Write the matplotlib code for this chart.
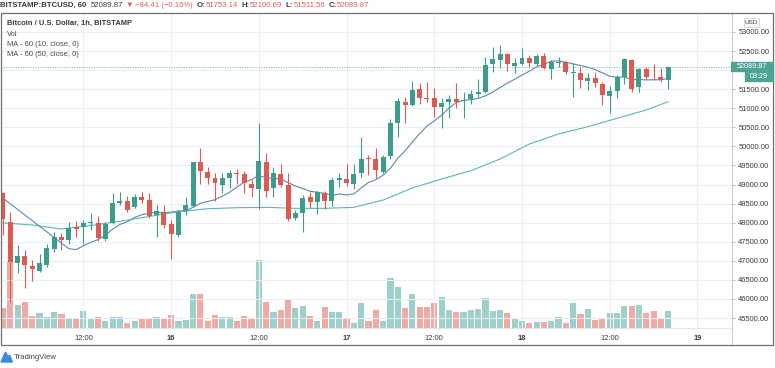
import numpy as np
import pandas as pd
import matplotlib
matplotlib.use("Agg")
import matplotlib.pyplot as plt
from matplotlib.patches import Rectangle, Polygon
from matplotlib.lines import Line2D

# ---------------- data (hourly BITSTAMP:BTCUSD) ----------------
start_time = "2021-02-15 01:00"
opens = [48779, 48026, 46951, 47127, 46865, 46742, 46883, 47318, 47617, 47546,
         47895, 47895, 48000, 48000, 47581, 47984, 48508, 48577, 48403, 48682,
         48595, 48202, 48262, 47958, 47677, 48315, 48446, 49583, 49337, 49164,
         48996, 49180, 49310, 49269, 49015, 48883, 49601, 48902, 49277, 48988,
         48115, 48246, 48665, 48550, 48770, 48577, 49120, 49138, 49015, 49295,
         49696, 49670, 49337, 49749, 50622, 51157, 51086, 51505, 51278, 51262,
         51041, 51172, 51243, 51183, 51235, 51374, 51419, 52153, 52266, 52415,
         52109, 52153, 52310, 52153, 52371, 52030, 52196, 52205, 51925, 51933,
         51715, 51802, 51637, 51330, 51453, 51812, 52266, 51550, 52022, 51802,
         51812, 51753.14]
highs = [48805, 48288, 47415, 47284, 47022, 47179, 47442, 47764, 47722, 48018,
         48044, 48070, 48262, 48175, 48026, 48786, 48813, 48708, 48752, 48813,
         48771, 48464, 48464, 48070, 48333, 48665, 49601, 49951, 49468, 49295,
         49295, 49382, 49400, 49355, 49120, 50606, 49820, 49468, 49539, 49311,
         48333, 48726, 48813, 48840, 48840, 49206, 49295, 49539, 49539, 50255,
         49775, 49951, 49775, 50711, 51262, 51288, 51723, 51671, 51697, 51524,
         51262, 51348, 51655, 51435, 51479, 51760, 52337, 52599, 52659, 52458,
         52310, 52573, 52397, 52424, 52441, 52266, 52353, 52248, 52195, 52091,
         51917, 51959, 51697, 51584, 51872, 52310, 52292, 52048, 52074, 52161,
         52048, 52100.69]
lows = [47677, 45928, 46689, 46280, 46479, 46707, 46847, 47240, 47284, 47433,
        47633, 47441, 47808, 47520, 47528, 47966, 48464, 48288, 48375, 48508,
        48115, 47633, 47853, 47040, 47633, 48202, 48420, 49015, 49015, 48577,
        48771, 48902, 49015, 48786, 48682, 48351, 48682, 48665, 48928, 48044,
        48070, 47748, 48377, 48220, 48351, 48446, 48944, 48962, 48883, 49206,
        49250, 49164, 49295, 49662, 50255, 50622, 51060, 51112, 51172, 50779,
        50475, 50737, 50999, 50737, 51112, 51304, 51393, 51959, 52048, 51985,
        51933, 52135, 52091, 52109, 52022, 51760, 52091, 51890, 51304, 51524,
        51479, 51550, 51086, 50884, 51262, 51629, 51419, 51419, 51760, 51741,
        51697, 51511.56]
closes = [48097, 46977, 47127, 46891, 46794, 46935, 47328, 47633, 47546, 47869,
          47842, 48000, 48018, 47591, 47966, 48508, 48569, 48333, 48682, 48595,
          48176, 48307, 47940, 47696, 48288, 48464, 49583, 49355, 49164, 49033,
          49164, 49295, 49285, 49033, 48902, 49618, 48831, 49311, 48988, 48097,
          48246, 48656, 48550, 48805, 48577, 49120, 49180, 49049, 49277, 49670,
          49662, 49382, 49730, 50622, 51191, 51086, 51479, 51262, 51243, 51041,
          51146, 51243, 51172, 51217, 51367, 51435, 52135, 52284, 52415, 52161,
          52195, 52327, 52179, 52371, 52048, 52222, 52222, 51943, 51959, 51741,
          51786, 51655, 51348, 51453, 51812, 52284, 51505, 52022, 51828, 51790,
          51741, 52089.87]
volumes = [394, 1326, 460, 526, 246, 294, 226, 326, 280, 194,
           174, 346, 194, 226, 146, 214, 214, 94, 146, 186,
           194, 226, 194, 260, 146, 160, 674, 680, 140, 260,
           226, 214, 146, 240, 194, 1360, 514, 326, 360, 560,
           394, 440, 246, 146, 426, 326, 314, 206, 94, 494,
           140, 360, 140, 1000, 814, 394, 674, 414, 414, 494,
           626, 360, 314, 314, 360, 380, 594, 340, 360, 294,
           174, 134, 106, 126, 126, 140, 226, 106, 494, 280,
           374, 160, 174, 306, 294, 446, 440, 460, 294, 346,
           206, 346]
# closes of the 9 hours before the visible window (estimated from the MA-10 line)
prior_closes = [48447, 48597, 48361, 48264, 48405, 48798, 49103, 49016, 49339]
# MA-50 every 4 hours
ma50_idx = list(range(0, 92, 4)) + [91]
ma50_vals = [47995, 47940, 47835, 47926, 48037, 48163, 48288, 48367, 48393, 48403,
             48377, 48377, 48403, 48595, 48910, 49146, 49364, 49670, 50063, 50326,
             50517, 50737, 50955, 51172]
price_ticks = list(range(45500, 53001, 500))
header_change = -84.41
header_change_pct = -0.16
countdown = "03:29"

# ---------------- colours ----------------
UP, DOWN = "#3c9d8c", "#dc5a4f"
UP_VOL, DOWN_VOL = "#9dd0c9", "#efaaa5"
MA10_C, MA50_C = "#5f87ad", "#5db7ae"
GRID = "#eceef2"
TXT = "#3a3a3a"
RED_TXT = "#e0605b"
FONT = ["Liberation Sans", "DejaVu Sans"]
plt.rcParams["font.family"] = FONT

W, H = 775, 368
fig = plt.figure(figsize=(W / 100, H / 100), dpi=100)
fig.patch.set_facecolor("white")

def fx(x):
    return x / W

def fy(y):
    return 1 - y / H

# main price axes: x 1..732 px, y 13..328 px
ax = fig.add_axes([fx(1), fy(328), fx(732) - fx(1), fy(13) - fy(328)])
axv = ax.twinx()
ax.yaxis.tick_right()
ax.set_zorder(axv.get_zorder() + 1)
ax.patch.set_visible(False)

n = len(closes)
idx = np.arange(n)

o = np.array(opens, float); h = np.array(highs, float)
l = np.array(lows, float); c = np.array(closes, float)
up = c >= o

# x range and price range matching the screenshot scale
px_per_bar = 7.31
x_left = (1 - 3) / px_per_bar
x_right = (732 - 3) / px_per_bar
ppp = 500 / 19.07  # price per pixel
ax.set_xlim(x_left, x_right)
ax.set_ylim(53000 - (328 - 32) * ppp, 53000 + (32 - 13) * ppp)

# volume (twin axis)
axv.bar(idx, volumes, width=0.84, color=[UP_VOL if u else DOWN_VOL for u in up],
        linewidth=0)
axv.set_ylim(0, 315 * 20)
axv.set_yticks([])
for s in axv.spines.values():
    s.set_visible(False)

# grid
ax.set_axisbelow(True)
ax.grid(True, color=GRID, linewidth=0.8)

# candles
cols = np.where(up, UP, DOWN)
ax.vlines(idx, l, h, colors=cols, linewidth=0.8, zorder=3)
body_lo = np.minimum(o, c)
body_h = np.maximum(np.abs(c - o), 8)
ax.bar(idx, body_h, bottom=body_lo, width=0.68, color=cols, linewidth=0, zorder=4)

# moving averages
all_closes = np.concatenate([prior_closes, c])
ma10 = np.convolve(all_closes, np.ones(10) / 10, mode="valid")
ax.plot(idx, ma10, color=MA10_C, linewidth=0.8, zorder=2)
ax.plot(ma50_idx, ma50_vals, color=MA50_C, linewidth=0.8, zorder=2)

# last price dotted line
ax.axhline(c[-1], color="#6fb6aa", linewidth=0.7, linestyle=(0, (1, 1.5)), zorder=2)

# price axis (the 52000 label sits under the last-price box)
ax.set_yticks(price_ticks)
ax.set_yticklabels(["" if abs(p - c[-1]) < 250 else f"{p:.2f}" for p in price_ticks])
ax.tick_params(axis="y", direction="out", length=2.5, width=0.6, color="#b0b3ba",
               labelsize=5.4, labelcolor=TXT, pad=2)

# time axis: ticks every 12 h
tick_pos, tick_lab, tick_bold = [], [], []
ext = pd.date_range(start_time, periods=int(x_right) + 1, freq="h")
for i, t in enumerate(ext):
    if t.hour == 12:
        tick_pos.append(i); tick_lab.append("12:00"); tick_bold.append(False)
    elif t.hour == 0:
        tick_pos.append(i); tick_lab.append(str(t.day)); tick_bold.append(True)
ax.set_xticks(tick_pos)
ax.set_xticklabels(tick_lab)
ax.tick_params(axis="x", length=0, labelsize=5.4, labelcolor=TXT, pad=5)
for lab, b in zip(ax.get_xticklabels(), tick_bold):
    if b:
        lab.set_fontweight("bold")

for side in ["left", "top"]:
    ax.spines[side].set_visible(False)
ax.spines["right"].set_color("#c9ccd3")
ax.spines["right"].set_linewidth(0.8)
ax.spines["bottom"].set_color("#e3e5ea")
ax.spines["bottom"].set_linewidth(0.8)

# outer frame and separator extension
fig.add_artist(Rectangle((fx(0.5), fy(345)), fx(772.5) - fx(0.5), fy(13) - fy(345),
                         transform=fig.transFigure, fill=False, edgecolor="#707070",
                         linewidth=0.9, zorder=10))
fig.add_artist(Line2D([fx(732), fx(732)], [fy(328), fy(345)], transform=fig.transFigure,
                      color="#c9ccd3", linewidth=0.8))

# last price label boxes
fig.add_artist(Rectangle((fx(731), fy(71)), fx(772.5) - fx(731), fy(61.5) - fy(71),
                         transform=fig.transFigure, color="#4ea596", zorder=11))
fig.text(fx(752), fy(66.2), f"{c[-1]:.2f}", color="white", fontsize=5.2,
         ha="center", va="center", zorder=12)
fig.add_artist(Rectangle((fx(745), fy(80.5)), fx(772.5) - fx(745), fy(71) - fy(80.5),
                         transform=fig.transFigure, color="#4ea596", zorder=11))
fig.text(fx(759), fy(76), countdown, color="white", fontsize=5.2,
         ha="center", va="center", zorder=12)

# USD box
fig.add_artist(Rectangle((fx(744), fy(27)), fx(759) - fx(744), fy(18.5) - fy(27),
                         transform=fig.transFigure, facecolor="white",
                         edgecolor="#cfd2d8", linewidth=0.6, zorder=11))
fig.text(fx(751.5), fy(22.8), "USD", color=TXT, fontsize=4.6, ha="center",
         va="center", zorder=12)

# ---------------- header line ----------------
segments = [
    ("BITSTAMP:BTCUSD, 60", TXT, "bold", 3.5),
    (f"{c[-1]:.2f}", TXT, "normal", 2.5),
    ("\u25BC", RED_TXT, "normal", 2.5),
    (f"\u2212{abs(header_change):.2f} (\u2212{abs(header_change_pct):.2f}%)",
     RED_TXT, "normal", 3.5),
    ("O:", TXT, "bold", 0.3), (f"{o[-1]:.2f}", RED_TXT, "normal", 3.5),
    ("H:", TXT, "bold", 0.3), (f"{h[-1]:.2f}", RED_TXT, "normal", 3.5),
    ("L:", TXT, "bold", 0.3), (f"{l[-1]:.2f}", RED_TXT, "normal", 3.5),
    ("C:", TXT, "bold", 0.3), (f"{c[-1]:.2f}", RED_TXT, "normal", 0),
]
renderer = fig.canvas.get_renderer()
x = 0.5
for txt, col, wt, gap in segments:
    t = fig.text(fx(x), fy(5.5), txt, color=col, fontweight=wt, fontsize=5.6,
                 ha="left", va="center", family=FONT)
    bb = t.get_window_extent(renderer)
    x = bb.x1 + gap

# legend lines
fig.text(fx(7), fy(23), "Bitcoin / U.S. Dollar, 1h, BITSTAMP", color=TXT,
         fontweight="bold", fontsize=5.4, ha="left", va="center")
for k, s in enumerate(["Vol", "MA - 60 (10, close, 0)", "MA - 60 (50, close, 0)"]):
    fig.text(fx(7), fy(34 + 10.5 * k), s, color="#4a4a4a", fontsize=5.4,
             ha="left", va="center")

# TradingView logo
fig.add_artist(Polygon([[fx(1), fy(362)], [fx(5.5), fy(352)], [fx(8), fy(357)],
                        [fx(9.5), fy(355)], [fx(12.5), fy(362)]],
                       closed=True, transform=fig.transFigure, color="#3b8ad9"))
fig.text(fx(14), fy(357.5), "TradingView", color="#444444", fontsize=5.6,
         ha="left", va="center")

fig.savefig("out.png", dpi=100, facecolor="white")
